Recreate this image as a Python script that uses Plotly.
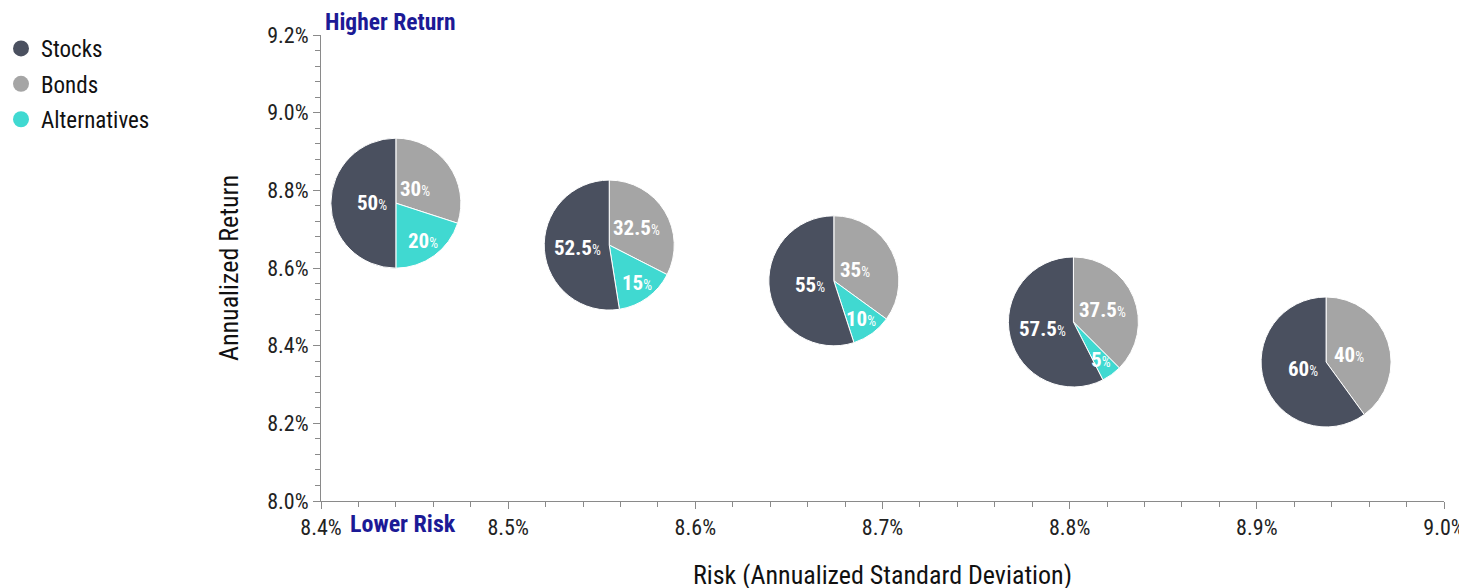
import math
import plotly.graph_objects as go

# ---------------- data ----------------
categories = ["Stocks", "Bonds", "Alternatives"]
risk = [8.440, 8.554, 8.674, 8.802, 8.937]          # x, annualized std dev (%)
annual_return = [8.767, 8.659, 8.567, 8.461, 8.358]  # y, annualized return (%)
stocks = [50, 52.5, 55, 57.5, 60]
bonds = [30, 32.5, 35, 37.5, 40]
alternatives = [20, 15, 10, 5, 0]
x_tick_vals = [8.4, 8.5, 8.6, 8.7, 8.8, 8.9, 9.0]
y_tick_vals = [8.0, 8.2, 8.4, 8.6, 8.8, 9.0, 9.2]
x_tick_text = [f"{v:.1f}%" for v in x_tick_vals]
y_tick_text = [f"{v:.1f}%" for v in y_tick_vals]

# ---------------- style ----------------
W, H = 1467, 588
PAGE_OFFSET = 8  # the html body margin shifts the figure by 8px
MARGIN = dict(l=321 - PAGE_OFFSET, t=35 - PAGE_OFFSET, autoexpand=False)
PLOT_W, PLOT_H = 1123, 466
MARGIN["r"] = W - MARGIN["l"] - PLOT_W
MARGIN["b"] = H - MARGIN["t"] - PLOT_H
X_RANGE = [8.4, 9.0]
Y_RANGE = [8.0, 9.2]
PIE_RADIUS_PX = 65
COLORS = {"Stocks": "#4a505f", "Bonds": "#a5a5a5", "Alternatives": "#40d9d1"}
FONT = "Roboto Condensed, Liberation Sans Narrow, Arial Narrow, Roboto, sans-serif"
AXIS_COLOR = "#8a8a8a"
NAVY = "#1c1a96"
LABEL_NUM_SIZE = 21
LABEL_PCT_SIZE = 14
LABEL_GAP_PX = 8          # inner gap between pie centre and label edge (large slices)
SMALL_SLICE_RADIAL = 0.72  # radial position (fraction of r) for small slices

px_per_x = PLOT_W / (X_RANGE[1] - X_RANGE[0])
px_per_y = PLOT_H / (Y_RANGE[1] - Y_RANGE[0])

fig = go.Figure()

# legend entries (circle markers)
for cat in categories:
    fig.add_trace(go.Scatter(
        x=[None], y=[None], mode="markers", name=cat, legendgroup=cat,
        marker=dict(color=COLORS[cat], size=20, symbol="circle"),
        showlegend=True, hoverinfo="skip"))


def pct_label(v):
    return f"<b>{v:g}</b><span style='font-size:{LABEL_PCT_SIZE}px'>%</span>"


def est_half_width(v):
    s = f"{v:g}"
    w = sum(5 if ch == "." else 11 for ch in s) + 10
    return w / 2


label_annotations = []

# one pie per portfolio, placed at its (risk, return) point via the axis mapping
for i in range(len(risk)):
    # clockwise from 12 o'clock: Bonds, Alternatives, Stocks
    order = [("Bonds", bonds[i]), ("Alternatives", alternatives[i]), ("Stocks", stocks[i])]
    order = [(c, v) for c, v in order if v > 0]
    cx = (risk[i] - X_RANGE[0]) / (X_RANGE[1] - X_RANGE[0])
    cy = (annual_return[i] - Y_RANGE[0]) / (Y_RANGE[1] - Y_RANGE[0])
    dx = PIE_RADIUS_PX / PLOT_W
    dy = PIE_RADIUS_PX / PLOT_H
    fig.add_trace(go.Pie(
        labels=[c for c, _ in order],
        values=[v for _, v in order],
        textinfo="none",
        marker=dict(colors=[COLORS[c] for c, _ in order], line=dict(color="white", width=1)),
        sort=False, direction="clockwise", rotation=0,
        domain=dict(x=[cx - dx, cx + dx], y=[cy - dy, cy + dy]),
        showlegend=False, hoverinfo="label+percent"))

    # slice labels
    total = sum(v for _, v in order)
    start = 0.0
    for c, v in order:
        mid = (start + v / 2) / total * 2 * math.pi  # clockwise from 12 o'clock
        start += v
        if v >= 25:
            dist = LABEL_GAP_PX + est_half_width(v)
        else:
            dist = SMALL_SLICE_RADIAL * PIE_RADIUS_PX
        ox = dist * math.sin(mid)
        oy = dist * math.cos(mid)
        label_annotations.append(dict(
            text=pct_label(v), xref="x", yref="y",
            x=risk[i] + ox / px_per_x, y=annual_return[i] + oy / px_per_y,
            xanchor="center", yanchor="middle", showarrow=False,
            font=dict(family=FONT, size=LABEL_NUM_SIZE, color="white")))

axis_common = dict(
    showline=True, linecolor=AXIS_COLOR, linewidth=1,
    ticks="outside", tickcolor=AXIS_COLOR, ticklen=7, tickwidth=1,
    showgrid=False, zeroline=False,
    tickfont=dict(family=FONT, size=22, color="#222222"),
)

fig.update_layout(
    width=W, height=H,
    margin=MARGIN,
    paper_bgcolor="white", plot_bgcolor="white",
    font=dict(family=FONT, color="#111111"),
    xaxis=dict(
        range=X_RANGE, tickmode="array", tickvals=x_tick_vals, ticktext=x_tick_text,
        minor=dict(dtick=0.02, tick0=8.4, ticks="outside", ticklen=5, tickcolor=AXIS_COLOR),
        title=dict(text="Risk (Annualized Standard Deviation)",
                   font=dict(family=FONT, size=26, color="#111111"), standoff=26),
        **axis_common),
    yaxis=dict(
        range=Y_RANGE, tickmode="array", tickvals=y_tick_vals, ticktext=y_tick_text,
        minor=dict(dtick=0.04, tick0=8.0, ticks="outside", ticklen=5, tickcolor=AXIS_COLOR),
        title=dict(text="Annualized Return",
                   font=dict(family=FONT, size=26, color="#111111"), standoff=21),
        **axis_common),
    legend=dict(
        xref="paper", yref="paper",
        x=(1 - 321) / PLOT_W, y=1 + 8 / PLOT_H, xanchor="left", yanchor="top",
        font=dict(family=FONT, size=23, color="#111111"),
        itemsizing="trace", traceorder="grouped", tracegroupgap=2.5,
        bgcolor="rgba(0,0,0,0)"),
    annotations=[
        dict(text="<b>Higher Return</b>", xref="paper", yref="paper",
             x=2 / PLOT_W, y=1 + 13 / PLOT_H, xanchor="left", yanchor="middle",
             showarrow=False, font=dict(family=FONT, size=23.5, color=NAVY)),
        dict(text="<b>Lower Risk</b>", xref="paper", yref="paper",
             x=27 / PLOT_W, y=-23 / PLOT_H, xanchor="left", yanchor="middle",
             showarrow=False, font=dict(family=FONT, size=24, color=NAVY)),
    ] + label_annotations,
)

fig.write_html("out.html")
